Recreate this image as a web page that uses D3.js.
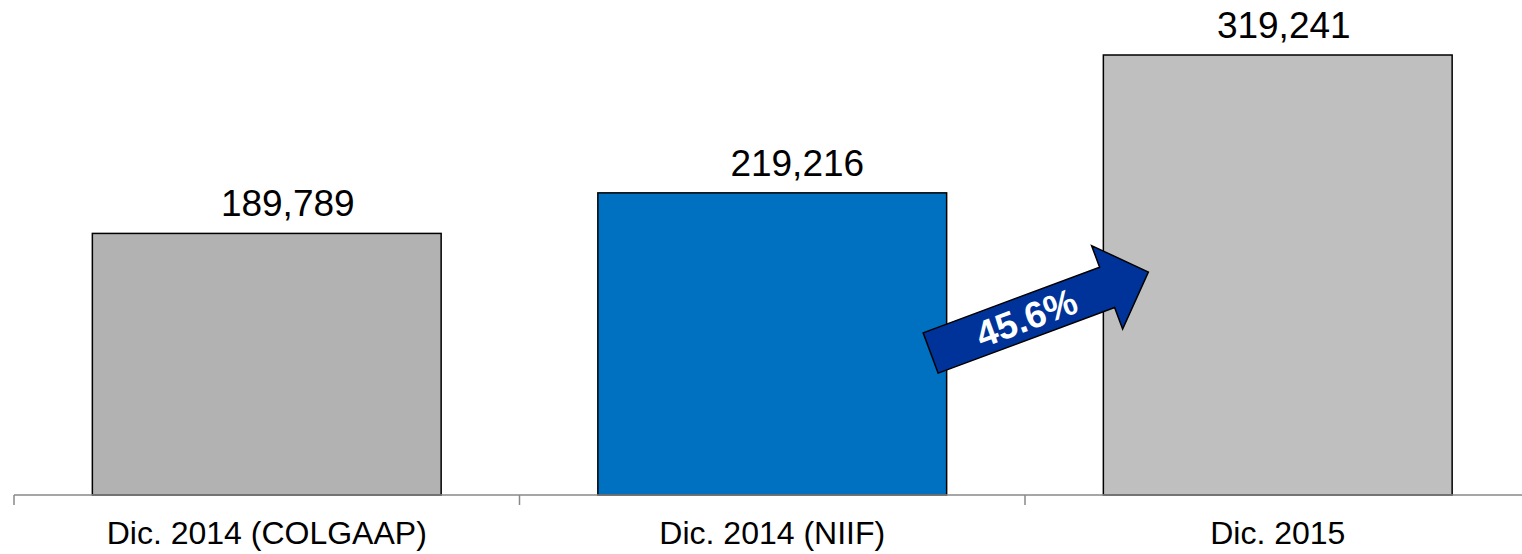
<!DOCTYPE html>
<html>
<head>
<meta charset="utf-8">
<script src="https://cdn.jsdelivr.net/npm/d3@7"></script>
<style>
  html, body { margin: 0; padding: 0; background: #fff; }
  svg { display: block; font-family: "Liberation Sans", Arial, sans-serif; }
</style>
</head>
<body>
<svg id="chart" width="1522" height="554"></svg>
<script>
// Periods and values
const categories = ["Dic. 2014 (COLGAAP)", "Dic. 2014 (NIIF)", "Dic. 2015"];
const values = [189789, 219216, 319241];
const barColors = ["#b2b2b2", "#0070c0", "#bfbfbf"];
const growthLabel = "45.6%";

const svg = d3.select("#chart");
const W = 1522, H = 554;
const baseY = 495;

const x = d3.scaleBand()
  .domain(categories)
  .range([14, 1530.5])
  .paddingInner(0.31)
  .paddingOuter(0.155);

const y = d3.scaleLinear()
  .domain([0, 319241])
  .range([baseY, 55]);

const fmt = d3.format(",");

// Bars
svg.append("g").selectAll("rect")
  .data(values)
  .join("rect")
  .attr("x", (d, i) => x(categories[i]))
  .attr("y", d => y(d))
  .attr("width", x.bandwidth())
  .attr("height", d => baseY - y(d))
  .attr("fill", (d, i) => barColors[i])
  .attr("stroke", "#000")
  .attr("stroke-width", 1.5);

// Value labels (hand-placed slightly right of each bar's centre)
const labelNudge = [21, 25, 6];
svg.append("g").selectAll("text")
  .data(values)
  .join("text")
  .attr("x", (d, i) => x(categories[i]) + x.bandwidth() / 2 + labelNudge[i])
  .attr("y", d => y(d) - 17)
  .attr("text-anchor", "middle")
  .attr("font-size", 37)
  .attr("fill", "#000")
  .text(d => fmt(d));

// Category axis with boundary ticks between bands
const axisG = svg.append("g");
axisG.append("line")
  .attr("x1", 14).attr("x2", W)
  .attr("y1", baseY).attr("y2", baseY)
  .attr("stroke", "#888").attr("stroke-width", 1.5);
const step = x.step();
const bounds = d3.range(categories.length).map(i => 14 + i * step);
axisG.selectAll("line.tick")
  .data(bounds)
  .join("line")
  .attr("class", "tick")
  .attr("x1", d => d).attr("x2", d => d)
  .attr("y1", baseY).attr("y2", baseY + 10)
  .attr("stroke", "#888").attr("stroke-width", 1.5);
axisG.selectAll("text")
  .data(categories)
  .join("text")
  .attr("x", d => 14 + categories.indexOf(d) * step + step / 2)
  .attr("y", 544)
  .attr("text-anchor", "middle")
  .attr("font-size", 32)
  .attr("fill", "#000")
  .text(d => d);

// Growth arrow from the second bar toward the third
const tail = [x(categories[1]) + x.bandwidth() - 16, 353];
const tip = [x(categories[2]) + 45, 272];
const dx = tip[0] - tail[0], dy = tip[1] - tail[1];
const len = Math.hypot(dx, dy);
const ang = Math.atan2(dy, dx) * 180 / Math.PI;
const shaftHalf = 21.5, headHalf = 44.5, headLen = 44;
const arrowPts = [
  [0, -shaftHalf], [len - headLen, -shaftHalf], [len - headLen, -headHalf],
  [len, 0],
  [len - headLen, headHalf], [len - headLen, shaftHalf], [0, shaftHalf]
];
const arrow = svg.append("g")
  .attr("transform", `translate(${tail[0]},${tail[1]}) rotate(${ang})`);
arrow.append("polygon")
  .attr("points", arrowPts.map(p => p.join(",")).join(" "))
  .attr("fill", "#003399")
  .attr("stroke", "#000")
  .attr("stroke-width", 1.5)
  .attr("stroke-linejoin", "miter");
arrow.append("text")
  .attr("x", (len - headLen) / 2 + 8)
  .attr("y", 0)
  .attr("dy", "0.36em")
  .attr("text-anchor", "middle")
  .attr("font-size", 37)
  .attr("font-weight", "bold")
  .attr("fill", "#fff")
  .text(growthLabel);
</script>
</body>
</html>
